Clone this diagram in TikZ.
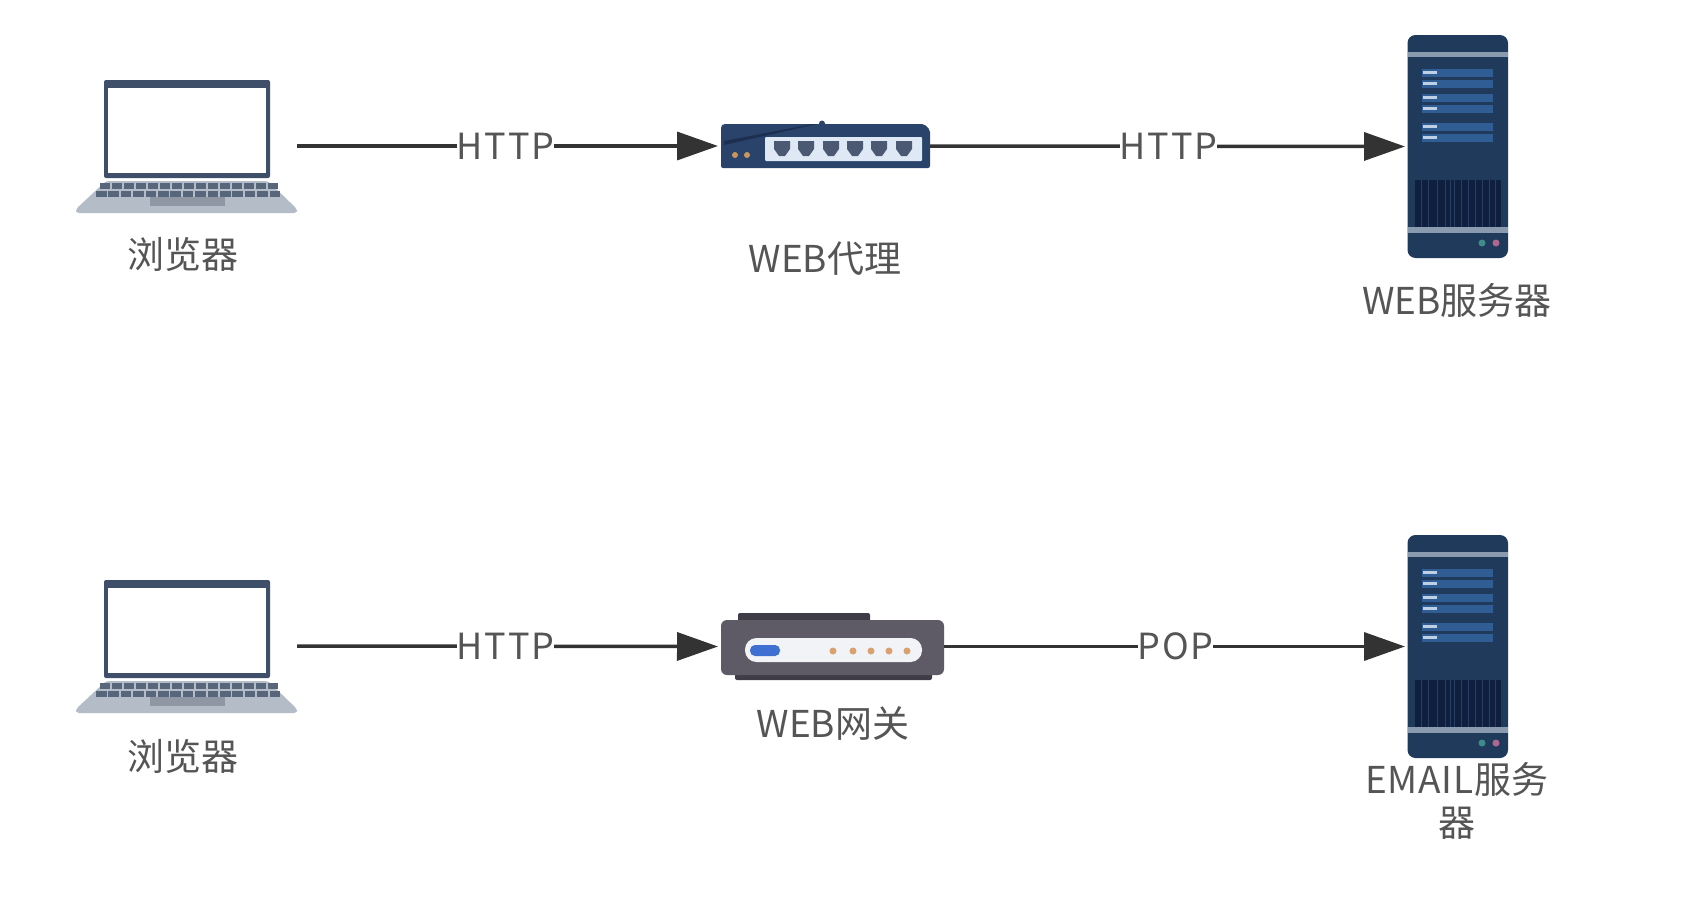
\documentclass[tikz,border=0pt]{standalone}
\usepackage{fontspec}
\setmainfont{Noto Sans CJK SC}
\usetikzlibrary{arrows.meta}
\definecolor{inkline}{HTML}{333333}
\definecolor{labelgray}{HTML}{555555}
\definecolor{navy}{HTML}{203A5C}
\definecolor{laptopframe}{HTML}{3F4F6A}
\tikzset{
  iconbox/.style={inner sep=0pt,outer sep=0pt,minimum width=#1},
  caption/.style={text=labelgray,font=\fontsize{37}{43}\selectfont,inner sep=0pt,align=center},
  link/.style={draw=inkline,line width=3.5pt,shorten >=3pt,-{Triangle[length=41pt,width=28pt]}},
  linklabel/.style={text=labelgray,font=\fontsize{36}{40}\selectfont\addfontfeature{LetterSpace=5},fill=white,inner sep=0pt,midway},
  pics/laptop/.style={code={
    \fill[laptopframe,rounded corners=2pt] (28,1) rectangle (194,99);
    \fill[white] (32,9) rectangle (190,94);
    \fill[fill={rgb,255:red,180;green,188;blue,200},rounded corners=3pt] (30,102) -- (192,102) -- (221,130) -- (221,134) -- (0,134) -- (0,130) -- cycle;
    \foreach \k in {0,...,14}{
      \fill[fill={rgb,255:red,88;green,102;blue,124}] ({24+\k*12},104) rectangle ++(9.5,6);
      \fill[fill={rgb,255:red,88;green,102;blue,124}] ({20+\k*12.4},112) rectangle ++(10.5,6);
    }
    \fill[fill={rgb,255:red,143;green,151;blue,165}] (74,118) rectangle (149,127);
  }},
  pics/server/.style={code={
    \fill[navy,rounded corners=8pt] (0.5,0) rectangle (101,223);
    \fill[fill={rgb,255:red,138;green,155;blue,176}] (0.5,17) rectangle (101,22);
    \foreach \a/\b in {34/37.3,45/48.3,59/62.3,70/73.3,88/91.7,99/102.3}{
      \fill[fill={rgb,255:red,47;green,93;blue,148}] (15,\a) rectangle (86,{\a+8});
      \fill[fill={rgb,255:red,190;green,208;blue,230}] (16,{\b-1.5}) rectangle (30,{\b+1.5});
    }
    \fill[fill={rgb,255:red,14;green,31;blue,64}] (8,145) rectangle (94,192);
    \foreach \v in {14,21,30,38,43,47,54,61,68,75,82,88}{
      \draw[line width=1pt,draw={rgb,255:red,40;green,62;blue,98}] (\v,145) -- (\v,192);
    }
    \fill[fill={rgb,255:red,138;green,155;blue,176}] (0.5,192) rectangle (101,198);
    \fill[fill={rgb,255:red,63;green,138;blue,138}] (75,208) circle (3.5);
    \fill[fill={rgb,255:red,176;green,103;blue,143}] (89,208) circle (3.5);
  }},
  pics/switchbox/.style={code={
    \fill[fill={rgb,255:red,42;green,67;blue,107}] (101,-0.5) circle (3);
    \fill[fill={rgb,255:red,42;green,67;blue,107},rounded corners=2pt] (0,2) -- (2,0) -- (203,0) -- (209,6) -- (209,44) -- (0,44) -- cycle;
    \fill[fill={rgb,255:red,28;green,47;blue,80}] (3,17) -- (92,0) -- (96,0) -- (3,21) -- cycle;
    \fill[fill={rgb,255:red,223;green,232;blue,245},rounded corners=1pt] (44,13) rectangle (201,37);
    \foreach \p in {61,85,110,134,158,183}{
      \fill[fill={rgb,255:red,75;green,90;blue,114}] (\p-8,17) -- (\p+8,17) -- (\p+8,25) -- (\p+3,32) -- (\p-3,32) -- (\p-8,25) -- cycle;
    }
    \fill[fill={rgb,255:red,201;green,151;blue,94}] (14,31) circle (3);
    \fill[fill={rgb,255:red,201;green,151;blue,94}] (26,31) circle (3);
  }},
  pics/gatewaybox/.style={code={
    \fill[fill={rgb,255:red,63;green,60;blue,72},rounded corners=2pt] (17,0) rectangle (149,12);
    \fill[fill={rgb,255:red,63;green,60;blue,72},rounded corners=2pt] (14,55) rectangle (211,67);
    \fill[fill={rgb,255:red,95;green,91;blue,102},rounded corners=6pt] (0,7) rectangle (223,62);
    \fill[fill={rgb,255:red,242;green,243;blue,246},rounded corners=11.5pt] (24,25) rectangle (201,49);
    \fill[fill={rgb,255:red,63;green,111;blue,208},rounded corners=5pt] (29,32) rectangle (59,43);
    \foreach \d in {112,132,150,168,186}{
      \fill[fill={rgb,255:red,217;green,160;blue,112}] (\d,38) circle (3.5);
    }
  }}
}
\begin{document}
\begin{tikzpicture}[x=1pt,y=-1pt]
\useasboundingbox (0,0) rectangle (1682,924);
\fill[white] (0,0) rectangle (1682,924);

\node[iconbox=221pt,minimum height=134pt] (lapA) at (186.5,146) {};
\node[iconbox=209pt,minimum height=44pt] (swA) at (825.5,146) {};
\node[iconbox=101pt,minimum height=223pt] (srvA) at (1457.5,146.5) {};
\node[iconbox=221pt,minimum height=134pt] (lapB) at (186.5,646) {};
\node[iconbox=223pt,minimum height=67pt] (gwB) at (832.5,646.5) {};
\node[iconbox=101pt,minimum height=223pt] (srvB) at (1457.5,646.5) {};

\pic at (lapA.north west) {laptop};
\pic at (swA.north west) {switchbox};
\pic at (srvA.north west) {server};
\pic at (lapB.north west) {laptop};
\pic at (gwB.north west) {gatewaybox};
\pic at (srvB.north west) {server};

\draw[link] (lapA.east) -- node[linklabel,pos=.492] (h1) {HTTP} (swA.west);
\draw[link,shorten >=2pt] (swA.east) -- node[linklabel] (h2) {HTTP} (srvA.west);
\draw[link] (lapB.east) -- node[linklabel,pos=.492] (h3) {HTTP} (gwB.west);
\draw[link,shorten >=2pt] (gwB.east) -- node[linklabel] (p1) {POP} (srvB.west);

\node[caption] (capA) at (183,254) {浏览器};
\node[caption] (capB) at (825,259) {WEB代理};
\node[caption] (capC) at (1457,300) {WEB服务器};
\node[caption] (capD) at (183,756) {浏览器};
\node[caption] (capE) at (833,723) {WEB网关};
\node[caption] (capF) at (1457,801) {\addfontfeature{LetterSpace=2}EMAIL服务\\器};
\end{tikzpicture}
\end{document}
